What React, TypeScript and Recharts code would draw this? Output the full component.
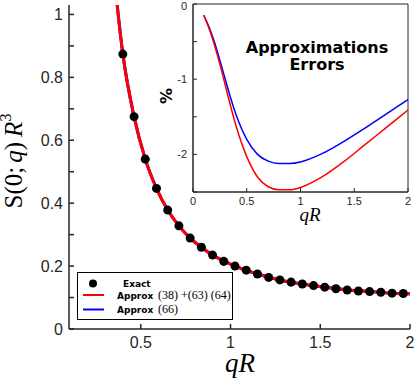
import React from 'react';
import { ComposedChart, LineChart, Line, Scatter, XAxis, YAxis, Legend, ReferenceArea } from 'recharts';

// exact S(0;q)R^3 points
const exactQ = [
  0.4, 0.4625, 0.525, 0.5875, 0.65, 0.7125, 0.775, 0.8375, 0.9, 0.9625, 1.025, 1.0875, 1.15,
  1.2125, 1.275, 1.3375, 1.4, 1.4625, 1.525, 1.5875, 1.65, 1.7125, 1.775, 1.8375, 1.9, 1.9625,
];
const exactS = [
  0.874, 0.675, 0.54, 0.447, 0.378, 0.328, 0.289, 0.26, 0.235, 0.215, 0.2, 0.187, 0.175,
  0.164, 0.156, 0.149, 0.143, 0.138, 0.133, 0.128, 0.124, 0.121, 0.119, 0.117, 0.114, 0.113,
];

// approximation curve (main panel)
const curveQ = [0.35, 0.4, 0.4625, 0.525, 0.5875, 0.65, 0.7125, 0.775, 0.8375, 0.9, 1.025, 1.15, 1.275, 1.4, 1.525, 1.65, 1.775, 1.9, 2.0];
const curveS = [1.13, 0.874, 0.675, 0.54, 0.447, 0.378, 0.328, 0.289, 0.26, 0.235, 0.2, 0.175, 0.156, 0.143, 0.133, 0.124, 0.119, 0.114, 0.112];

// inset: errors in %
const errQ = [0.1, 0.15, 0.2, 0.25, 0.3, 0.35, 0.4, 0.5, 0.6, 0.7, 0.8, 0.9, 1.0, 1.2, 1.4, 1.6, 1.8, 2.0];
const errRed = [-0.15, -0.33, -0.55, -0.8, -1.08, -1.36, -1.62, -2.03, -2.3, -2.43, -2.47, -2.47, -2.44, -2.3, -2.1, -1.87, -1.64, -1.41];
const errBlue = [-0.15, -0.31, -0.51, -0.75, -1.0, -1.25, -1.47, -1.8, -2.0, -2.09, -2.12, -2.12, -2.1, -1.99, -1.83, -1.65, -1.46, -1.27];

const mainYTicks = [0, 0.1, 0.2, 0.3, 0.4, 0.5, 0.6, 0.7, 0.8, 0.9, 1];
const mainYLabels = ['0', '', '0.2', '', '0.4', '', '0.6', '', '0.8', '', '1'];
const mainXTicks = [0.5, 1, 1.5, 2];
const mainXLabels = ['0.5', '1', '1.5', '2'];
const insetXTicks = [0, 0.5, 1, 1.5, 2];
const insetXLabels = ['0', '0.5', '1', '1.5', '2'];
const insetYTicks = [-2.5, -2, -1.5, -1, -0.5, 0];
const insetYLabels = ['', '-2', '', '-1', '', '0'];

const exactData = exactQ.map((q, i) => ({ q, s: exactS[i] }));
const curveData = curveQ.map((q, i) => ({ q, s: curveS[i] }));
const errData = errQ.map((q, i) => ({ q, red: errRed[i], blue: errBlue[i] }));

const AXIS = '#262626';
const SANS = '"Liberation Sans", Arial, sans-serif';
const SERIF = '"Liberation Serif", "Times New Roman", serif';
const BOLD = '"DejaVu Sans", sans-serif';

const lookup = (ticks: number[], labels: string[]) => (v: number) => {
  const i = ticks.findIndex(t => Math.abs(t - v) < 1e-6);
  return i >= 0 ? labels[i] : '';
};

const LegendBox = () => (
  <svg width={157} height={48}>
    <rect x={0.5} y={0.5} width={155} height={47} fill="white" stroke="black" strokeWidth={1} />
    <circle cx={16} cy={11.5} r={4} fill="black" />
    <text x={46} y={15} fontFamily={BOLD} fontWeight="bold" fontSize={9}>Exact</text>
    <line x1={6} x2={27} y1={23} y2={23} stroke="#ff0000" strokeWidth={2} />
    <text x={40} y={27} fontFamily={BOLD} fontWeight="bold" fontSize={9}>Approx</text>
    <text x={81} y={27} fontFamily={SERIF} fontSize={12}>(38) +(63) (64)</text>
    <line x1={6} x2={27} y1={37.5} y2={37.5} stroke="#0000ff" strokeWidth={2} />
    <text x={40} y={41} fontFamily={BOLD} fontWeight="bold" fontSize={9}>Approx</text>
    <text x={81} y={41} fontFamily={SERIF} fontSize={12}>(66)</text>
  </svg>
);

export default function App() {
  return (
    <div style={{ position: 'absolute', left: 0, top: 0, width: 415, height: 387, background: 'white' }}>
      {/* main panel */}
      <div style={{ position: 'absolute', left: 0, top: 0 }}>
        <ComposedChart width={415} height={387} margin={{ top: 5, right: 5, bottom: 0, left: 0 }}>
          <XAxis
            dataKey="q"
            type="number"
            domain={[0.1, 2]}
            ticks={mainXTicks}
            tickFormatter={lookup(mainXTicks, mainXLabels)}
            height={58}
            allowDataOverflow
            stroke={AXIS}
            strokeWidth={1.5}
            tickSize={-5}
            tickMargin={13}
            tick={{ fontFamily: SANS, fontSize: 16, fill: AXIS }}
          />
          <YAxis
            type="number"
            domain={[0, 1.03]}
            ticks={mainYTicks}
            tickFormatter={lookup(mainYTicks, mainYLabels)}
            width={69}
            allowDataOverflow
            stroke={AXIS}
            strokeWidth={1.5}
            tickSize={-5}
            tickMargin={11}
            tick={{ fontFamily: SANS, fontSize: 16, fill: AXIS }}
          />
          <Line data={curveData} dataKey="s" type="monotone" stroke="#0000ff" strokeWidth={3} dot={false} isAnimationActive={false} />
          <Line data={curveData} dataKey="s" type="monotone" stroke="#ff0000" strokeWidth={3} dot={false} isAnimationActive={false} />
          <Scatter data={exactData} dataKey="s" fill="black" isAnimationActive={false} />
          <Legend
            layout="vertical"
            align="center"
            verticalAlign="middle"
            content={() => <LegendBox />}
            wrapperStyle={{ left: 77, top: 272, width: 157, height: 48 }}
          />
        </ComposedChart>
      </div>

      {/* inset panel */}
      <div style={{ position: 'absolute', left: 140, top: 0 }}>
        <LineChart width={275} height={230} data={errData} margin={{ top: 4, right: 7, bottom: 0, left: 0 }}>
          <ReferenceArea x1={0} x2={2} y1={-2.5} y2={0} fill="white" fillOpacity={1} stroke={AXIS} strokeWidth={1} />
          <XAxis
            dataKey="q"
            type="number"
            domain={[0, 2]}
            ticks={insetXTicks}
            tickFormatter={lookup(insetXTicks, insetXLabels)}
            height={38}
            stroke={AXIS}
            tickSize={-4}
            tickMargin={9}
            tick={{ fontFamily: SANS, fontSize: 11, fill: AXIS }}
          />
          <YAxis
            type="number"
            domain={[-2.5, 0]}
            ticks={insetYTicks}
            tickFormatter={lookup(insetYTicks, insetYLabels)}
            width={53}
            stroke={AXIS}
            tickSize={-4}
            tickMargin={10}
            tick={{ fontFamily: SANS, fontSize: 11, fill: AXIS }}
          />
          <Line dataKey="blue" type="monotone" stroke="#0000ff" strokeWidth={1.5} dot={false} isAnimationActive={false} />
          <Line dataKey="red" type="monotone" stroke="#ff0000" strokeWidth={1.5} dot={false} isAnimationActive={false} />
        </LineChart>
      </div>

      {/* axis titles */}
      <svg width={415} height={387} style={{ position: 'absolute', left: 0, top: 0, pointerEvents: 'none' }}>
        <text transform="translate(22,161) rotate(-90)" textAnchor="middle" fontFamily={SERIF} fontSize={25} fill="black">
          S(0;<tspan dx={4} fontStyle="italic">q</tspan>)<tspan dx={5} fontStyle="italic">R</tspan>
          <tspan fontSize={16} dy={-11}>3</tspan>
        </text>
        <text x={240} y={372} textAnchor="middle" fontFamily={SERIF} fontStyle="italic" fontSize={27} fill="black">qR</text>
        <text x={310} y={221} textAnchor="middle" fontFamily={SERIF} fontStyle="italic" fontSize={19} fill="black">qR</text>
        <text transform="translate(172,96) rotate(-90)" textAnchor="middle" fontFamily={BOLD} fontWeight="bold" fontSize={16} fill="black">%</text>
        <text x={317} y={53} textAnchor="middle" fontFamily={BOLD} fontWeight="bold" fontSize={16} fill="black">Approximations</text>
        <text x={317} y={70} textAnchor="middle" fontFamily={BOLD} fontWeight="bold" fontSize={16} fill="black">Errors</text>
      </svg>
    </div>
  );
}
